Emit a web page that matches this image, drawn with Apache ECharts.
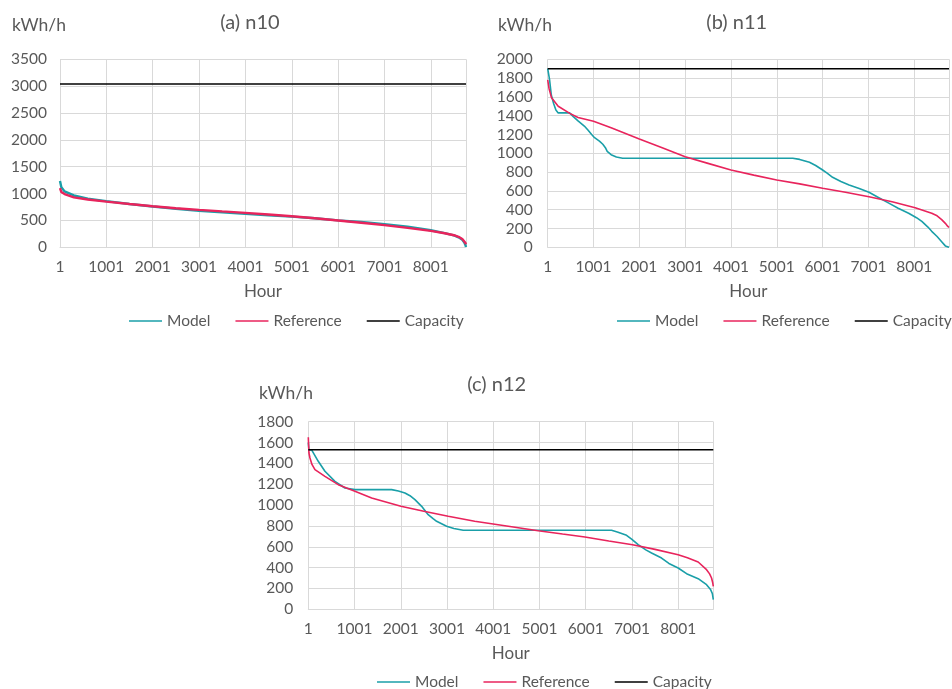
<!DOCTYPE html>
<html><head><meta charset="utf-8">
<script src="https://cdn.jsdelivr.net/npm/echarts@6/dist/echarts.min.js"></script>
<style>html,body{margin:0;padding:0;background:#fff}#c{width:952px;height:689px}</style>
</head><body><div id="c"></div><script>
// ---- data (hour, value) ----
var hourTicks = [1, 1001, 2001, 3001, 4001, 5001, 6001, 7001, 8001];
var seriesNames = ['Model', 'Reference', 'Capacity'];
var panelTitles = ['(a) n10', '(b) n11', '(c) n12'];
var unitLabel = 'kWh/h';

var n10ModelHours = [1, 30, 100, 300, 600, 1000, 1500, 2000, 2500, 3000, 3500, 4000, 4500, 5000, 5500, 6000, 6500, 7000, 7500, 8000, 8300, 8500, 8600, 8680, 8720, 8745, 8760];
var n10Model      = [1234, 1120, 1040, 965, 905, 860, 805, 760, 718, 680, 650, 622, 598, 572, 540, 502, 470, 432, 385, 318, 265, 222, 185, 140, 95, 50, 5];
var n10RefHours   = [1, 30, 100, 300, 600, 1000, 1500, 2000, 2500, 3000, 3500, 4000, 4500, 5000, 5500, 6000, 6500, 7000, 7500, 8000, 8300, 8500, 8600, 8680, 8720, 8745, 8760];
var n10Ref        = [1100, 1030, 990, 930, 890, 850, 805, 765, 728, 697, 668, 640, 610, 578, 540, 500, 458, 412, 362, 305, 262, 225, 195, 155, 120, 85, 55];
var n10Capacity   = 3040;

var n11ModelHours = [1, 20, 40, 80, 130, 180, 230, 480, 560, 663, 800, 879, 960, 1024, 1130, 1204, 1260, 1300, 1385, 1500, 1637, 5350, 5500, 5714, 5850, 6002, 6100, 6219, 6400, 6580, 6800, 7013, 7200, 7446, 7650, 7879, 8050, 8167, 8300, 8383, 8500, 8600, 8680, 8710, 8760];
var n11Model      = [1900, 1880, 1790, 1620, 1530, 1460, 1430, 1430, 1390, 1344, 1290, 1248, 1200, 1166, 1130, 1096, 1060, 1020, 985, 960, 948, 948, 935, 904, 870, 822, 790, 745, 700, 663, 625, 585, 535, 470, 415, 362, 315, 275, 215, 170, 115, 60, 15, 0, 0];
var n11RefHours   = [1, 30, 85, 230, 483, 663, 1001, 1385, 2001, 2500, 3001, 3500, 4001, 4500, 5001, 5500, 6002, 6500, 7013, 7518, 8022, 8383, 8500, 8600, 8680, 8730, 8760];
var n11Ref        = [1780, 1690, 1590, 1500, 1425, 1380, 1340, 1272, 1152, 1058, 964, 893, 822, 768, 716, 675, 628, 585, 538, 485, 421, 362, 335, 295, 255, 225, 210];
var n11Capacity   = 1900;

var n12ModelHours = [1, 15, 73, 216, 361, 577, 793, 1009, 1803, 1950, 2091, 2200, 2307, 2452, 2594, 2700, 2776, 2992, 3150, 3352, 6560, 6700, 6884, 7000, 7135, 7300, 7425, 7641, 7800, 8000, 8182, 8433, 8614, 8700, 8740, 8760];
var n12Model      = [1600, 1530, 1530, 1420, 1324, 1228, 1164, 1148, 1148, 1135, 1116, 1090, 1052, 988, 908, 870, 844, 796, 775, 758, 758, 740, 710, 670, 620, 570, 540, 492, 440, 396, 342, 294, 236, 190, 150, 92];
var n12RefHours   = [1, 15, 37, 80, 145, 361, 649, 1009, 1371, 2004, 2500, 3027, 3600, 4253, 4973, 5500, 5983, 6500, 7013, 7500, 8000, 8200, 8433, 8614, 8680, 8722, 8745, 8760];
var n12Ref        = [1650, 1500, 1452, 1390, 1340, 1276, 1196, 1132, 1068, 988, 940, 892, 845, 802, 754, 722, 694, 655, 620, 575, 524, 495, 454, 380, 340, 300, 260, 220];
var n12Capacity   = 1530;

// ---- styling / layout ----
var TXT = '#595959', GRID = '#d9d9d9', FONT = 'Lato';
var C_MODEL = '#1A9FA8', C_REF = '#E8245C', C_CAP = '#000000';

function pairs(h, v) { return h.map(function (x, i) { return [x, v[i]]; }); }
function capLine(c) { return [[1, c], [8760, c]]; }

var panels = [
  { mh: n10ModelHours, m: n10Model, rh: n10RefHours, r: n10Ref, cap: n10Capacity, ymax: 3500, yint: 500,
    grid: { left: 60, top: 59.3, width: 406, height: 188 }, lblMargin: 13, lw: 2.4,
    title: [250, 23], unit: [12, 25], legend: [129, 313] },
  { mh: n11ModelHours, m: n11Model, rh: n11RefHours, r: n11Ref, cap: n11Capacity, ymax: 2000, yint: 200,
    grid: { left: 547.7, top: 59.3, width: 404.3, height: 188 }, lblMargin: 15, lw: 1.6,
    title: [736.7, 23], unit: [498, 25], legend: [617, 313] },
  { mh: n12ModelHours, m: n12Model, rh: n12RefHours, r: n12Ref, cap: n12Capacity, ymax: 1800, yint: 200,
    grid: { left: 308.3, top: 421.7, width: 405, height: 187.6 }, lblMargin: 15, lw: 1.6,
    title: [496.7, 385], unit: [259, 393], legend: [377, 674] }
];

var option = { animation: false, backgroundColor: '#fff', title: [], legend: [], grid: [], xAxis: [], yAxis: [], series: [] };

panels.forEach(function (p, i) {
  option.grid.push(p.grid);
  option.title.push({ text: panelTitles[i], left: p.title[0], top: p.title[1], padding: 0,
    textAlign: 'center', textVerticalAlign: 'middle',
    textStyle: { fontFamily: FONT, fontSize: 20, fontWeight: 'normal', color: TXT } });
  option.title.push({ text: unitLabel, left: p.unit[0], top: p.unit[1], padding: 0,
    textAlign: 'left', textVerticalAlign: 'middle',
    textStyle: { fontFamily: FONT, fontSize: 17.5, fontWeight: 'normal', color: TXT } });
  option.legend.push({ left: p.legend[0], top: p.legend[1], padding: 0, itemWidth: 33, itemHeight: 1.6, itemGap: 25,
    icon: 'rect', selectedMode: false, data: seriesNames,
    textStyle: { fontFamily: FONT, fontSize: 15.5, color: TXT } });
  option.xAxis.push({ gridIndex: i, type: 'value', min: hourTicks[0], max: 8760, interval: 1000,
    axisLine: { show: true, lineStyle: { color: GRID, width: 1 } }, axisTick: { show: false },
    splitLine: { show: true, lineStyle: { color: GRID, width: 1 } },
    axisLabel: { color: TXT, fontFamily: FONT, fontSize: 15.5, margin: 12,
      formatter: function (v) { return hourTicks.indexOf(Math.round(v)) >= 0 ? String(Math.round(v)) : ''; } },
    name: 'Hour', nameLocation: 'middle', nameGap: 36,
    nameTextStyle: { color: TXT, fontFamily: FONT, fontSize: 17 } });
  option.yAxis.push({ gridIndex: i, type: 'value', min: 0, max: p.ymax, interval: p.yint,
    axisLine: { show: false }, axisTick: { show: false },
    splitLine: { show: true, lineStyle: { color: GRID, width: 1 } },
    axisLabel: { color: TXT, fontFamily: FONT, fontSize: 15.5, margin: p.lblMargin,
      formatter: function (v) { return String(v); } } });
  option.series.push({ name: 'Model', type: 'line', xAxisIndex: i, yAxisIndex: i, symbol: 'none',
    data: pairs(p.mh, p.m), lineStyle: { color: C_MODEL, width: p.lw }, itemStyle: { color: C_MODEL } });
  option.series.push({ name: 'Reference', type: 'line', xAxisIndex: i, yAxisIndex: i, symbol: 'none',
    data: pairs(p.rh, p.r), lineStyle: { color: C_REF, width: p.lw }, itemStyle: { color: C_REF } });
  option.series.push({ name: 'Capacity', type: 'line', xAxisIndex: i, yAxisIndex: i, symbol: 'none',
    data: capLine(p.cap), lineStyle: { color: C_CAP, width: 1.5 }, itemStyle: { color: C_CAP } });
});

var chart = echarts.init(document.getElementById('c'), null, { renderer: 'canvas' });
chart.setOption(option);
</script></body></html>
